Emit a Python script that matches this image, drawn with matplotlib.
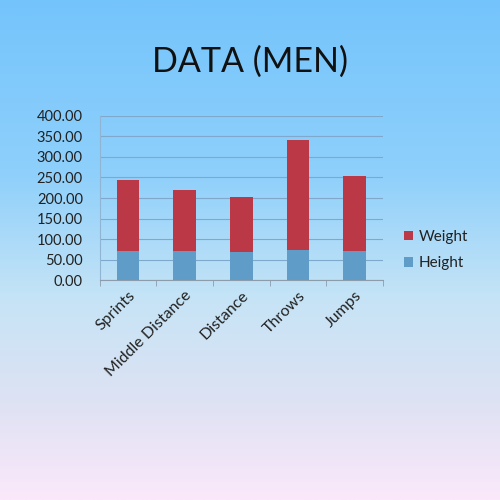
import numpy as np
import matplotlib.pyplot as plt
from matplotlib.colors import LinearSegmentedColormap

events = ["Sprints", "Middle Distance", "Distance", "Throws", "Jumps"]
height = [70.5, 70.5, 68.0, 73.5, 72.0]
weight = [172.5, 149.0, 134.0, 267.0, 182.5]

plt.rcParams['font.family'] = ['Lato', 'DejaVu Sans']

fig = plt.figure(figsize=(5, 5), dpi=100)

# background gradient, light blue on top to pale pink at the bottom
bg = fig.add_axes([0, 0, 1, 1], zorder=-10)
cmap = LinearSegmentedColormap.from_list(
    "bg", [(0.0, "#74c4fc"), (0.35, "#8fd0fb"), (0.6, "#c6e4f6"),
           (0.8, "#dde2f3"), (1.0, "#fbe8fb")])
bg.imshow(np.linspace(0, 1, 256).reshape(-1, 1), aspect="auto", cmap=cmap,
          extent=[0, 1, 0, 1], origin="upper")
bg.axis("off")

fig.text(0.5, 0.876, "DATA (MEN)", ha="center", va="center", fontsize=24.5, color="#111111")

ax = fig.add_axes([0.199, 0.4394, 0.567, 0.3292])
ax.patch.set_alpha(0)
x = np.arange(len(events))
ax.bar(x, height, width=0.4, color="#5f9dc8", label="Height", zorder=3)
ax.bar(x, weight, width=0.4, bottom=height, color="#bb3846", label="Weight", zorder=3)

ax.set_xlim(-0.5, len(events) - 0.5)
ax.set_ylim(0, 400)
ax.set_yticks(range(0, 401, 50))
ax.set_yticklabels([f"{v:.2f}" for v in range(0, 401, 50)], fontsize=10.5, color="#222222")
ax.yaxis.grid(True, color="#7fa8cc", linewidth=0.8, zorder=0)
ax.tick_params(axis="y", length=0, pad=12)

ax.set_xticks(x)
ax.set_xticklabels(events, rotation=45, ha="right", rotation_mode="anchor",
                   fontsize=11.5, color="#222222")
ax.tick_params(axis="x", length=0, pad=6)
ax.set_xticks(np.arange(-0.5, len(events)), minor=True)
ax.tick_params(axis="x", which="minor", length=4, color="#8c9cab")

for s in ["top", "right"]:
    ax.spines[s].set_visible(False)
ax.spines["left"].set_color("#8fb4d4")
ax.spines["bottom"].set_color("#8c9cab")

handles, labels = ax.get_legend_handles_labels()
fig.legend(handles[::-1], labels[::-1], loc="center left", bbox_to_anchor=(0.78, 0.5), frameon=False,
           fontsize=11, handlelength=0.6, handleheight=0.6, handletextpad=0.4, labelspacing=0.8,
           labelcolor="#222222")

fig.savefig("out.png", dpi=100)
